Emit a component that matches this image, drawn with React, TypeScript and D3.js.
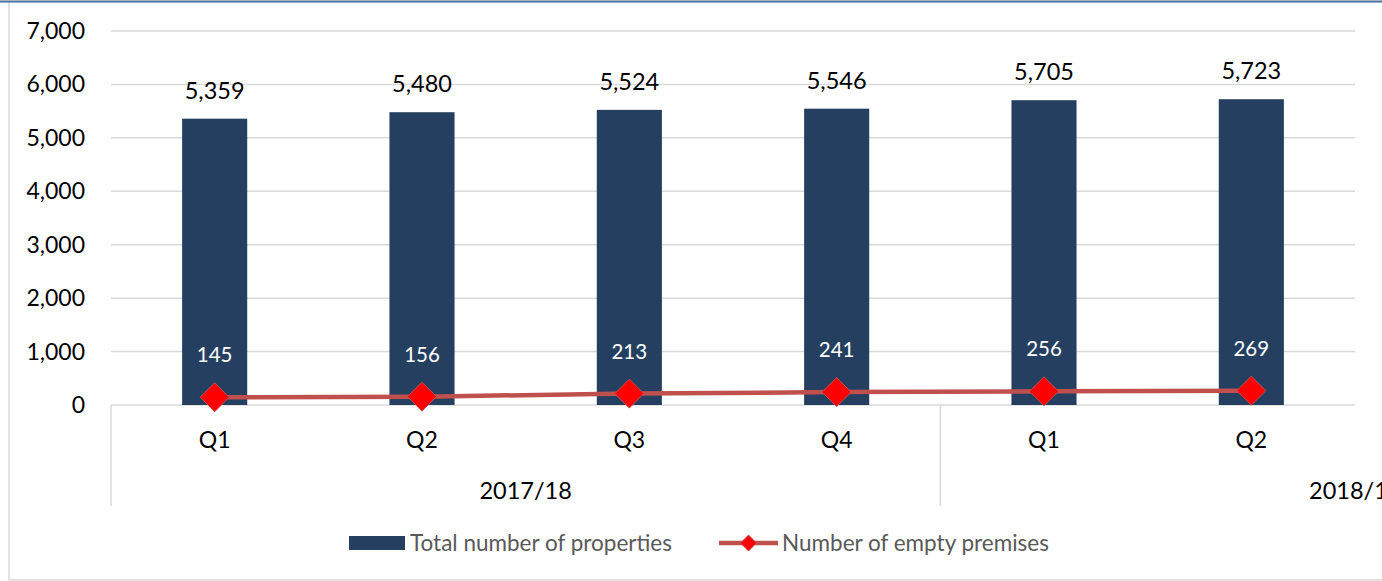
import React from "react";
import * as d3 from "d3";

const quarters = ["Q1", "Q2", "Q3", "Q4", "Q1", "Q2"];
const years = ["2017/18", "2017/18", "2017/18", "2017/18", "2018/19", "2018/19"];
const totalProperties = [5359, 5480, 5524, 5546, 5705, 5723];
const emptyPremises = [145, 156, 213, 241, 256, 269];
const yTicks = [0, 1000, 2000, 3000, 4000, 5000, 6000, 7000];
const legendLabels = ["Total number of properties", "Number of empty premises"];

const W = 1382;
const H = 581;
const FONT = "Lato, 'Open Sans', sans-serif";
const BAR = "#253f61";
const LINE = "#c0504d";
const GRID = "#d9d9d9";

export default function App() {
  const idx = quarters.map((_, i) => i);
  const x = d3
    .scaleBand<number>()
    .domain(idx)
    .range([111, 1355])
    .paddingInner(0.686)
    .paddingOuter(0.343);
  const step = x.step();
  const cx = (i: number) => (x(i) as number) + x.bandwidth() / 2;
  const y = d3.scaleLinear().domain([0, 7000]).range([405, 31]);
  const fmt = d3.format(",");

  const line = d3
    .line<number>()
    .x((_, i) => cx(i))
    .y((d) => y(d));

  const groups: { name: string; start: number; end: number }[] = [];
  years.forEach((yr, i) => {
    const g = groups[groups.length - 1];
    if (!g || g.name !== yr) groups.push({ name: yr, start: i, end: i });
    else g.end = i;
  });
  const gx0 = (g: { start: number }) => cx(g.start) - step / 2;
  const gx1 = (g: { end: number }) => cx(g.end) + step / 2;

  const diamond = (px: number, py: number, r: number) =>
    `M${px},${py - r}L${px + r},${py}L${px},${py + r}L${px - r},${py}Z`;

  return (
    <svg
      width={W}
      height={H}
      style={{ position: "absolute", left: 0, top: 0, background: "#fff" }}
      fontFamily={FONT}
    >
      <line x1={9} x2={9} y1={2} y2={580} stroke={GRID} strokeWidth={1.5} />
      <line x1={9} x2={W} y1={580} y2={580} stroke={GRID} strokeWidth={1.5} />
      <line x1={0} x2={W} y1={1.5} y2={1.5} stroke="#4a6d9a" strokeWidth={2} />

      {yTicks.map((t) => (
        <line key={t} x1={111} x2={1355} y1={y(t)} y2={y(t)} stroke={GRID} strokeWidth={1.5} />
      ))}
      {yTicks.map((t) => (
        <text key={"l" + t} x={85} y={y(t)} dy="0.35em" textAnchor="end" fontSize={23} fill="#000">
          {fmt(t)}
        </text>
      ))}

      {groups.map((g, gi) => (
        <line key={"s" + gi} x1={gx0(g)} x2={gx0(g)} y1={405} y2={506} stroke={GRID} strokeWidth={1.5} />
      ))}

      {totalProperties.map((v, i) => (
        <rect key={"b" + i} x={x(i)} y={y(v)} width={x.bandwidth()} height={y(0) - y(v)} fill={BAR} />
      ))}
      {totalProperties.map((v, i) => (
        <text key={"bl" + i} x={cx(i)} y={y(v) - 28} dy="0.35em" textAnchor="middle" fontSize={23.5} fill="#000">
          {fmt(v)}
        </text>
      ))}

      <path d={line(emptyPremises) || ""} fill="none" stroke={LINE} strokeWidth={4.5} />
      {emptyPremises.map((v, i) => (
        <path key={"m" + i} d={diamond(cx(i), y(v), 14.5)} fill="#ff0000" stroke={LINE} strokeWidth={1} />
      ))}
      {emptyPremises.map((v, i) => (
        <text key={"ml" + i} x={cx(i)} y={y(v) - 42} dy="0.35em" textAnchor="middle" fontSize={20.5} fill="#fff">
          {fmt(v)}
        </text>
      ))}

      {quarters.map((q, i) => (
        <text key={"q" + i} x={cx(i)} y={440} dy="0.35em" textAnchor="middle" fontSize={23} fill="#000">
          {q}
        </text>
      ))}
      {groups.map((g, gi) =>
        gi === 0 ? (
          <text key={"g" + gi} x={(gx0(g) + gx1(g)) / 2} y={491} dy="0.35em" textAnchor="middle" fontSize={23.5} fill="#000">
            {g.name}
          </text>
        ) : (
          <text key={"g" + gi} x={gx1(g) - 46} y={491} dy="0.35em" textAnchor="start" fontSize={23.5} fill="#000">
            {g.name}
          </text>
        )
      )}

      <rect x={349} y={536} width={56} height={14} fill={BAR} />
      <text x={410} y={543} dy="0.35em" fontSize={22.5} fill="#595959">
        {legendLabels[0]}
      </text>
      <line x1={719} x2={778} y1={543} y2={543} stroke={LINE} strokeWidth={4.5} />
      <path d={diamond(748.5, 543, 8)} fill="#ff0000" stroke={LINE} strokeWidth={1} />
      <text x={782} y={543} dy="0.35em" fontSize={22.5} fill="#595959">
        {legendLabels[1]}
      </text>
    </svg>
  );
}
